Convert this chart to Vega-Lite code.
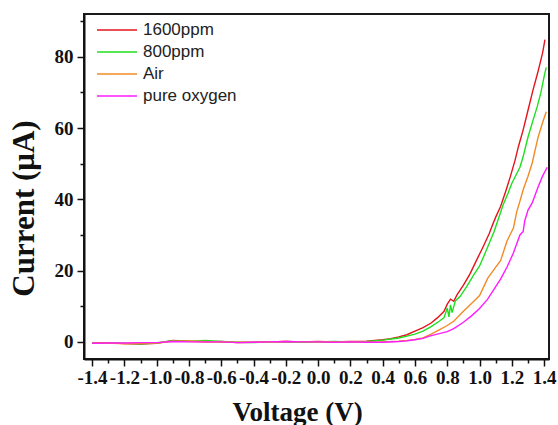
{
"$schema": "https://vega.github.io/schema/vega-lite/v6.json",
"width": 465, "height": 345,
"autosize": {"type": "none"},
"padding": {"left": 84, "top": 14, "right": 9, "bottom": 66},
"background": "white",
"config": {"view": {"stroke": "#1a1a1a", "strokeWidth": 2}},
"data": {"values": [
{"s":"1600ppm","v":-1.4,"c":-0.3},{"s":"1600ppm","v":-1.3,"c":-0.2},{"s":"1600ppm","v":-1.2,"c":-0.5},{"s":"1600ppm","v":-1.1,"c":-0.6},{"s":"1600ppm","v":-1.0,"c":-0.4},{"s":"1600ppm","v":-0.9,"c":0.4},{"s":"1600ppm","v":-0.8,"c":0.2},{"s":"1600ppm","v":-0.7,"c":0.0},{"s":"1600ppm","v":-0.6,"c":0.1},{"s":"1600ppm","v":-0.5,"c":-0.2},{"s":"1600ppm","v":-0.4,"c":-0.1},{"s":"1600ppm","v":-0.3,"c":0.0},{"s":"1600ppm","v":-0.2,"c":0.1},{"s":"1600ppm","v":-0.1,"c":0.0},{"s":"1600ppm","v":0.0,"c":0.1},{"s":"1600ppm","v":0.1,"c":0.0},{"s":"1600ppm","v":0.2,"c":0.1},{"s":"1600ppm","v":0.3,"c":0.2},{"s":"1600ppm","v":0.35,"c":0.4},{"s":"1600ppm","v":0.4,"c":0.6},{"s":"1600ppm","v":0.45,"c":0.9},{"s":"1600ppm","v":0.5,"c":1.4},{"s":"1600ppm","v":0.55,"c":2.0},{"s":"1600ppm","v":0.6,"c":3.0},{"s":"1600ppm","v":0.65,"c":4.0},{"s":"1600ppm","v":0.7,"c":5.3},{"s":"1600ppm","v":0.74,"c":6.8},{"s":"1600ppm","v":0.78,"c":8.6},{"s":"1600ppm","v":0.8,"c":10.6},{"s":"1600ppm","v":0.82,"c":12.0},{"s":"1600ppm","v":0.84,"c":11.4},{"s":"1600ppm","v":0.86,"c":13.2},{"s":"1600ppm","v":0.9,"c":15.9},{"s":"1600ppm","v":0.94,"c":19.0},{"s":"1600ppm","v":0.98,"c":22.8},{"s":"1600ppm","v":1.02,"c":26.5},{"s":"1600ppm","v":1.06,"c":30.4},{"s":"1600ppm","v":1.08,"c":32.8},{"s":"1600ppm","v":1.1,"c":35.0},{"s":"1600ppm","v":1.13,"c":38.0},{"s":"1600ppm","v":1.16,"c":42.0},{"s":"1600ppm","v":1.19,"c":46.3},{"s":"1600ppm","v":1.22,"c":51.0},{"s":"1600ppm","v":1.24,"c":54.7},{"s":"1600ppm","v":1.27,"c":59.5},{"s":"1600ppm","v":1.3,"c":65.0},{"s":"1600ppm","v":1.33,"c":70.5},{"s":"1600ppm","v":1.36,"c":75.5},{"s":"1600ppm","v":1.39,"c":81.0},{"s":"1600ppm","v":1.405,"c":84.8},
{"s":"800ppm","v":-1.4,"c":-0.3},{"s":"800ppm","v":-1.3,"c":-0.3},{"s":"800ppm","v":-1.2,"c":-0.4},{"s":"800ppm","v":-1.1,"c":-0.5},{"s":"800ppm","v":-1.0,"c":-0.3},{"s":"800ppm","v":-0.9,"c":0.3},{"s":"800ppm","v":-0.8,"c":0.1},{"s":"800ppm","v":-0.7,"c":0.4},{"s":"800ppm","v":-0.6,"c":0.1},{"s":"800ppm","v":-0.5,"c":-0.1},{"s":"800ppm","v":-0.4,"c":-0.2},{"s":"800ppm","v":-0.3,"c":0.0},{"s":"800ppm","v":-0.2,"c":0.0},{"s":"800ppm","v":-0.1,"c":-0.1},{"s":"800ppm","v":0.0,"c":0.0},{"s":"800ppm","v":0.1,"c":0.1},{"s":"800ppm","v":0.2,"c":0.0},{"s":"800ppm","v":0.3,"c":0.1},{"s":"800ppm","v":0.4,"c":0.5},{"s":"800ppm","v":0.5,"c":1.1},{"s":"800ppm","v":0.55,"c":1.6},{"s":"800ppm","v":0.6,"c":2.2},{"s":"800ppm","v":0.65,"c":3.0},{"s":"800ppm","v":0.7,"c":4.3},{"s":"800ppm","v":0.75,"c":5.8},{"s":"800ppm","v":0.78,"c":6.8},{"s":"800ppm","v":0.8,"c":9.5},{"s":"800ppm","v":0.81,"c":7.0},{"s":"800ppm","v":0.82,"c":10.4},{"s":"800ppm","v":0.83,"c":8.2},{"s":"800ppm","v":0.85,"c":11.5},{"s":"800ppm","v":0.88,"c":12.8},{"s":"800ppm","v":0.92,"c":15.5},{"s":"800ppm","v":0.96,"c":18.5},{"s":"800ppm","v":1.0,"c":21.3},{"s":"800ppm","v":1.04,"c":25.5},{"s":"800ppm","v":1.09,"c":31.0},{"s":"800ppm","v":1.12,"c":35.0},{"s":"800ppm","v":1.146,"c":38.5},{"s":"800ppm","v":1.177,"c":41.8},{"s":"800ppm","v":1.2,"c":44.5},{"s":"800ppm","v":1.25,"c":49.0},{"s":"800ppm","v":1.27,"c":52.0},{"s":"800ppm","v":1.3,"c":57.5},{"s":"800ppm","v":1.33,"c":62.0},{"s":"800ppm","v":1.357,"c":66.0},{"s":"800ppm","v":1.38,"c":70.0},{"s":"800ppm","v":1.4,"c":74.5},{"s":"800ppm","v":1.413,"c":77.0},
{"s":"Air","v":-1.4,"c":-0.3},{"s":"Air","v":-1.3,"c":-0.3},{"s":"Air","v":-1.2,"c":-0.5},{"s":"Air","v":-1.1,"c":-0.4},{"s":"Air","v":-1.0,"c":-0.3},{"s":"Air","v":-0.9,"c":0.2},{"s":"Air","v":-0.8,"c":0.2},{"s":"Air","v":-0.7,"c":0.1},{"s":"Air","v":-0.6,"c":0.0},{"s":"Air","v":-0.5,"c":-0.1},{"s":"Air","v":-0.4,"c":-0.1},{"s":"Air","v":-0.3,"c":0.0},{"s":"Air","v":-0.2,"c":0.1},{"s":"Air","v":-0.1,"c":0.0},{"s":"Air","v":0.0,"c":0.0},{"s":"Air","v":0.1,"c":0.0},{"s":"Air","v":0.2,"c":0.0},{"s":"Air","v":0.3,"c":-0.1},{"s":"Air","v":0.4,"c":0.0},{"s":"Air","v":0.5,"c":0.2},{"s":"Air","v":0.55,"c":0.4},{"s":"Air","v":0.6,"c":0.7},{"s":"Air","v":0.65,"c":1.1},{"s":"Air","v":0.7,"c":2.2},{"s":"Air","v":0.75,"c":3.4},{"s":"Air","v":0.8,"c":4.6},{"s":"Air","v":0.84,"c":5.8},{"s":"Air","v":0.9,"c":8.6},{"s":"Air","v":0.95,"c":10.8},{"s":"Air","v":1.0,"c":13.0},{"s":"Air","v":1.05,"c":17.8},{"s":"Air","v":1.1,"c":21.0},{"s":"Air","v":1.13,"c":22.8},{"s":"Air","v":1.17,"c":28.3},{"s":"Air","v":1.21,"c":32.0},{"s":"Air","v":1.23,"c":36.5},{"s":"Air","v":1.25,"c":39.5},{"s":"Air","v":1.27,"c":42.7},{"s":"Air","v":1.3,"c":46.5},{"s":"Air","v":1.326,"c":50.2},{"s":"Air","v":1.345,"c":54.0},{"s":"Air","v":1.363,"c":57.5},{"s":"Air","v":1.39,"c":61.5},{"s":"Air","v":1.413,"c":64.6},
{"s":"pure oxygen","v":-1.4,"c":-0.4},{"s":"pure oxygen","v":-1.3,"c":-0.3},{"s":"pure oxygen","v":-1.2,"c":-0.3},{"s":"pure oxygen","v":-1.1,"c":-0.2},{"s":"pure oxygen","v":-1.0,"c":-0.2},{"s":"pure oxygen","v":-0.9,"c":0.1},{"s":"pure oxygen","v":-0.8,"c":0.0},{"s":"pure oxygen","v":-0.7,"c":0.0},{"s":"pure oxygen","v":-0.6,"c":0.0},{"s":"pure oxygen","v":-0.5,"c":-0.2},{"s":"pure oxygen","v":-0.4,"c":-0.1},{"s":"pure oxygen","v":-0.3,"c":0.0},{"s":"pure oxygen","v":-0.2,"c":0.1},{"s":"pure oxygen","v":-0.1,"c":0.0},{"s":"pure oxygen","v":0.0,"c":0.0},{"s":"pure oxygen","v":0.1,"c":-0.1},{"s":"pure oxygen","v":0.2,"c":0.0},{"s":"pure oxygen","v":0.3,"c":-0.1},{"s":"pure oxygen","v":0.4,"c":-0.1},{"s":"pure oxygen","v":0.5,"c":0.1},{"s":"pure oxygen","v":0.55,"c":0.3},{"s":"pure oxygen","v":0.6,"c":0.6},{"s":"pure oxygen","v":0.65,"c":1.0},{"s":"pure oxygen","v":0.69,"c":1.6},{"s":"pure oxygen","v":0.75,"c":2.3},{"s":"pure oxygen","v":0.8,"c":2.9},{"s":"pure oxygen","v":0.84,"c":3.7},{"s":"pure oxygen","v":0.9,"c":5.5},{"s":"pure oxygen","v":0.95,"c":7.3},{"s":"pure oxygen","v":1.0,"c":9.4},{"s":"pure oxygen","v":1.05,"c":12.0},{"s":"pure oxygen","v":1.1,"c":15.5},{"s":"pure oxygen","v":1.13,"c":17.6},{"s":"pure oxygen","v":1.17,"c":21.0},{"s":"pure oxygen","v":1.21,"c":25.0},{"s":"pure oxygen","v":1.25,"c":30.0},{"s":"pure oxygen","v":1.27,"c":31.0},{"s":"pure oxygen","v":1.28,"c":34.0},{"s":"pure oxygen","v":1.3,"c":37.0},{"s":"pure oxygen","v":1.326,"c":39.0},{"s":"pure oxygen","v":1.363,"c":43.5},{"s":"pure oxygen","v":1.39,"c":46.5},{"s":"pure oxygen","v":1.419,"c":49.0}
]},
"mark": {"type": "line", "strokeWidth": 1.4, "clip": true},
"encoding": {
"x": {"field": "v", "type": "quantitative",
 "scale": {"domain": [-1.45, 1.43], "nice": false, "zero": false},
 "axis": {"title": "Voltage (V)", "grid": false,
  "values": [-1.4,-1.3,-1.2,-1.1,-1.0,-0.9,-0.8,-0.7,-0.6,-0.5,-0.4,-0.3,-0.2,-0.1,0,0.1,0.2,0.3,0.4,0.5,0.6,0.7,0.8,0.9,1.0,1.1,1.2,1.3,1.4],
  "labelExpr": "round(datum.value*10) % 2 == 0 ? replace(format(datum.value, '.1f'), '\u2212', '-') : ''",
  "tickSize": {"condition": {"test": "round(datum.value*10) % 2 != 0", "value": 4}, "value": 7},
  "tickColor": "#111", "tickWidth": 1.5, "domainColor": "#111", "domainWidth": 2,
  "labelFont": "Liberation Serif", "labelFontWeight": "bold", "labelFontSize": 19, "labelColor": "#111",
  "labelOverlap": false, "labelFlush": false, "labelBound": false, "labelPadding": 2,
  "titleFont": "Liberation Serif", "titleFontWeight": "bold", "titleFontSize": 27, "titleColor": "#111",
  "titleX": 213, "titleY": 61, "titleAlign": "center", "titleBaseline": "alphabetic"}},
"y": {"field": "c", "type": "quantitative",
 "scale": {"domain": [-4.8, 92], "nice": false, "zero": false},
 "axis": {"title": "Current (μA)", "grid": false,
  "values": [0,10,20,30,40,50,60,70,80,90],
  "labelExpr": "datum.value % 20 == 0 ? datum.value : ''",
  "tickSize": {"condition": {"test": "datum.value % 20 != 0", "value": 4}, "value": 7},
  "tickColor": "#111", "tickWidth": 1.5, "domainColor": "#111", "domainWidth": 2,
  "labelFont": "Liberation Serif", "labelFontWeight": "bold", "labelFontSize": 19, "labelColor": "#111",
  "labelOverlap": false, "labelFlush": false, "labelBound": false, "labelPadding": 4,
  "titleFont": "Liberation Serif", "titleFontWeight": "bold", "titleFontSize": 31, "titleColor": "#111",
  "titleX": -60, "titleY": 194, "titleAlign": "center", "titleBaseline": "middle", "titleAngle": -90}},
"color": {"field": "s", "type": "nominal",
 "scale": {"domain": ["1600ppm", "800ppm", "Air", "pure oxygen"], "range": ["#e3141c", "#1fe01f", "#f28a26", "#ff1cff"]},
 "legend": {"orient": "none", "legendX": 12, "legendY": 5, "title": null, "symbolType": "stroke", "symbolSize": 1600, "symbolStrokeWidth": 1.5,
  "labelFont": "Liberation Sans", "labelFontSize": 17, "labelColor": "#222", "clipHeight": 22, "rowPadding": 0, "labelOffset": 5, "padding": 0}}
}
}
